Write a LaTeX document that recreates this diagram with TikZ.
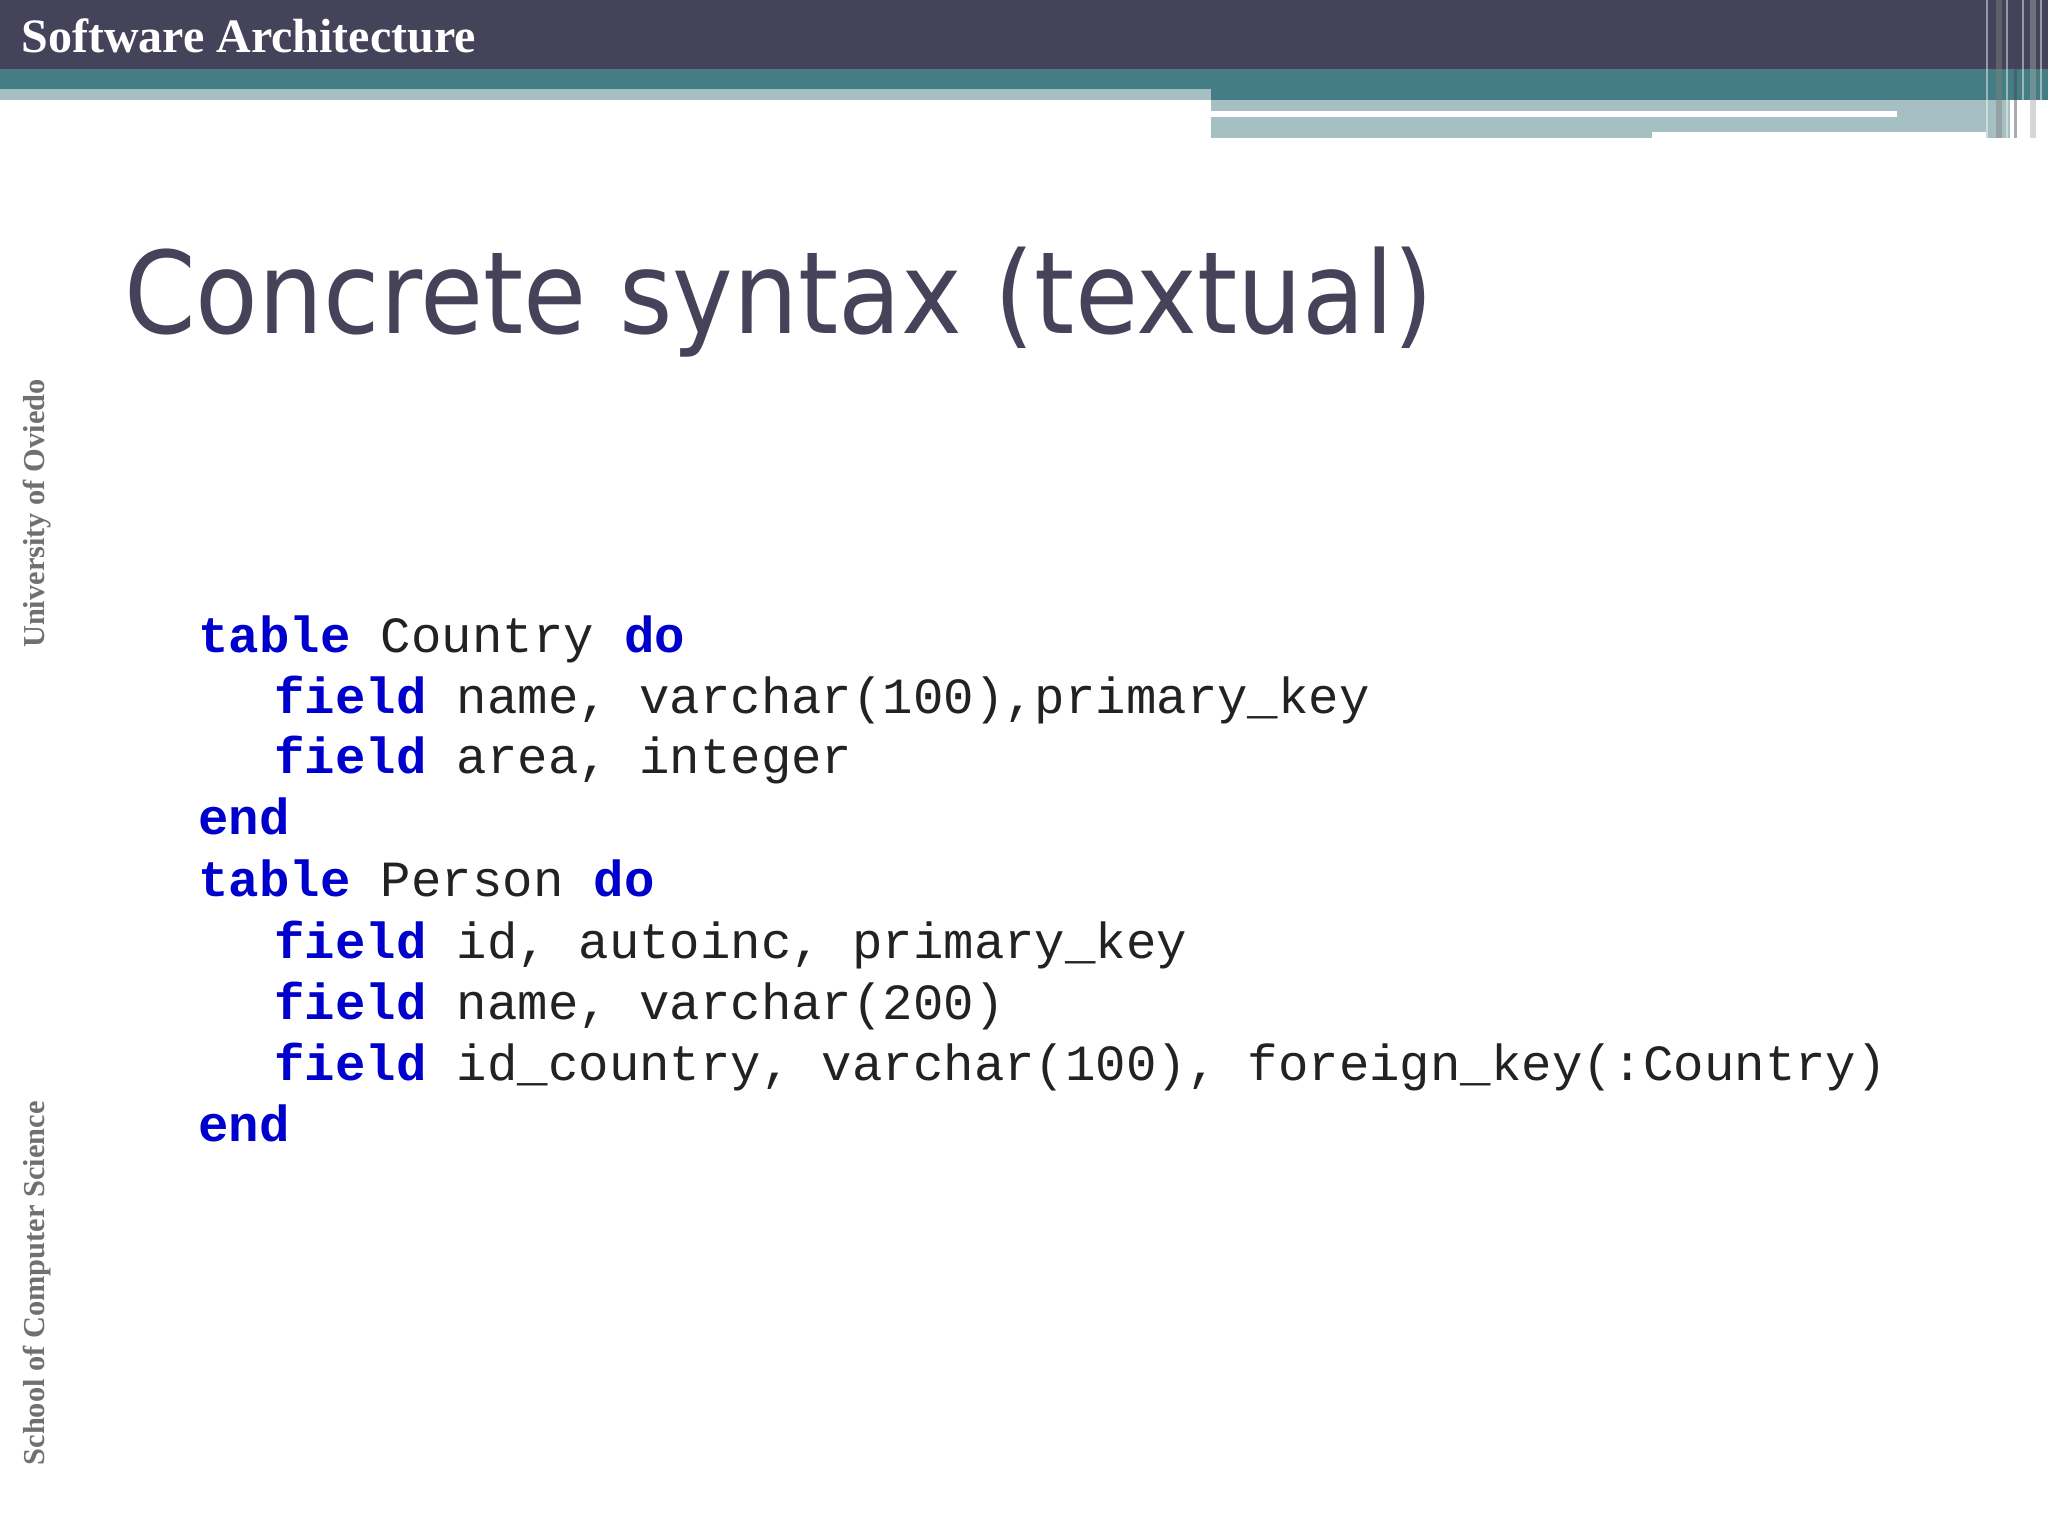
\documentclass[tikz,border=0pt]{standalone}
\usepackage{fontspec}
\setmainfont{Liberation Serif}
\newfontfamily\titlefont{DejaVu Sans}
\newfontfamily\codefont{Liberation Mono}
\definecolor{dark}{HTML}{45435A}
\definecolor{teal}{HTML}{447E84}
\definecolor{lteal}{HTML}{A5BFC2}
\definecolor{kw}{HTML}{0000CC}
\definecolor{codec}{HTML}{222222}
\definecolor{sidec}{HTML}{707070}
\begin{document}
\begin{tikzpicture}[x=0.5pt,y=-0.5pt,
  code/.style={anchor=base west,inner sep=0,font=\codefont\fontsize{25.35}{30}\selectfont,text=codec},
  side/.style={rotate=90,inner sep=0,font=\bfseries\fontsize{15.2}{17}\selectfont,text=sidec}]
\useasboundingbox (0,0) rectangle (2048,1536);
\fill[white] (0,0) rectangle (2048,1536);
\fill[dark] (0,0) rectangle (2048,69);
\fill[teal] (0,69) rectangle (2048,89);
\fill[teal] (1211,89) rectangle (2048,100);
\fill[lteal] (0,89) rectangle (1211,100);
\fill[lteal] (1211,100) rectangle (2010,138);
\fill[white] (1211,111) rectangle (1897,117);
\fill[white] (1652,132) rectangle (1986,138);
\foreach \x/\w/\c in {1986/2/white,1996/6/gray,2006/2/white,2014/3/dark,2022/2/white,2030/6/gray!70,2040/2/white}
  \fill[\c,opacity=0.45] (\x,0) rectangle (\x+\w,138);
\node[anchor=base west,inner sep=0,text=white,font=\bfseries\fontsize{24}{26}\selectfont] (hdr) at (21,53) {Software Architecture};
\node[anchor=base west,inner sep=0,text=dark,xscale=0.9,font=\titlefont\fontsize{57}{60}\selectfont] (title) at (124,333) {Concrete syntax (textual)};
\node[side,anchor=east] (uo) at (37,379) {University of Oviedo};
\node[side,anchor=east] (sc) at (37,1101) {School of Computer Science};
\def\k#1{\textcolor{kw}{\bfseries #1}}
\node[code] (l1) at (198,652) {\k{table} Country \k{do}};
\node[code] (l2) at (274,713) {\k{field} name, varchar(100),primary\_key};
\node[code] (l3) at (274,773) {\k{field} area, integer};
\node[code] (l4) at (198,834) {\k{end}};
\node[code] (l5) at (198,896) {\k{table} Person \k{do}};
\node[code] (l6) at (274,958) {\k{field} id, autoinc, primary\_key};
\node[code] (l7) at (274,1019) {\k{field} name, varchar(200)};
\node[code] (l8) at (274,1080) {\k{field} id\_country, varchar(100), foreign\_key(:Country)};
\node[code] (l9) at (198,1141) {\k{end}};
\end{tikzpicture}
\end{document}
